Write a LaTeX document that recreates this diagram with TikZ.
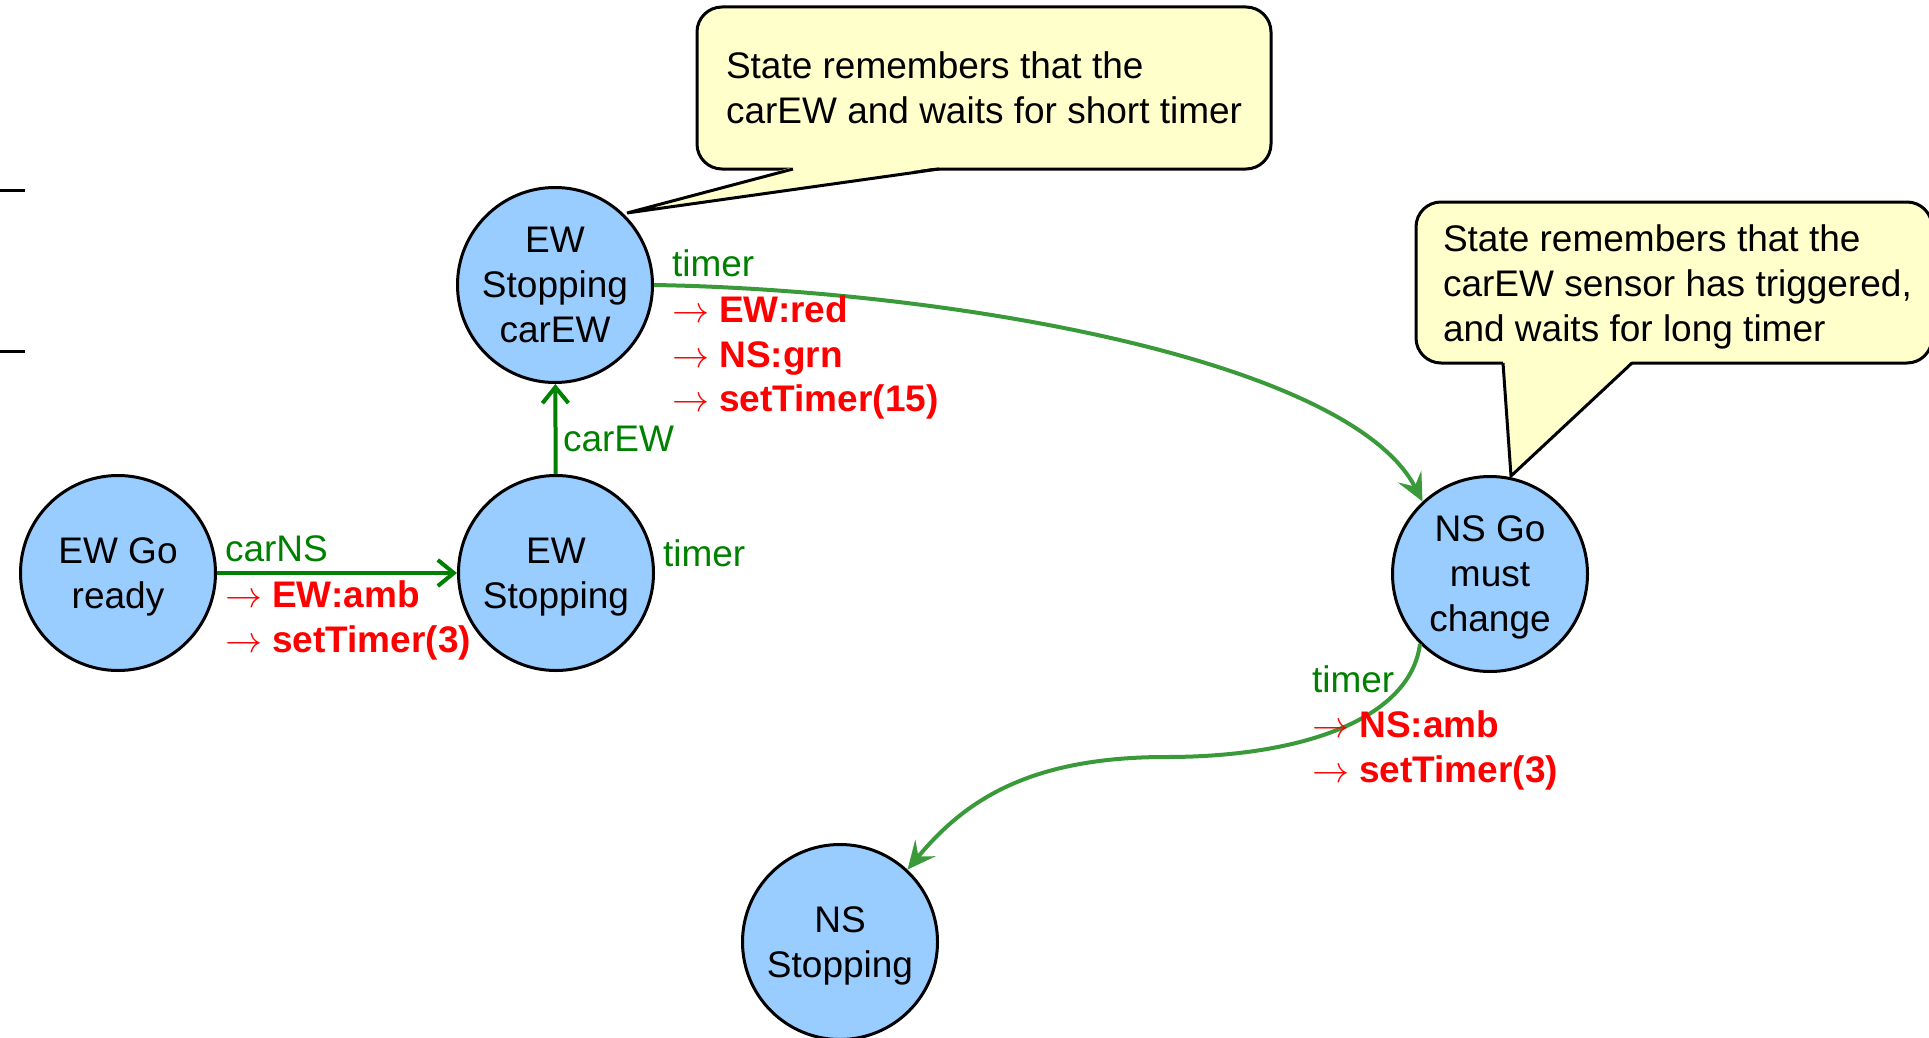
\documentclass[tikz,border=0pt]{standalone}
\usepackage{fix-cm}
\usepackage{fontspec}
\setmainfont{Liberation Sans}
\usetikzlibrary{arrows.meta}

\definecolor{statefill}{HTML}{99CCFF}
\definecolor{notefill}{HTML}{FFFFCC}
\definecolor{trigger}{HTML}{008000}
\definecolor{action}{HTML}{FF0000}
\definecolor{flowgreen}{HTML}{3A9A3A}

\newcommand{\labelfont}{\fontsize{37}{45}\selectfont}
\newcommand{\act}[1]{$\rightarrow$\ #1}

\begin{document}
\begin{tikzpicture}[x=1pt,y=-1pt,
  every node/.style={font=\labelfont, inner sep=0pt, outer sep=0pt},
  state/.style={circle, draw=black, line width=3pt, fill=statefill,
    minimum size=195pt, align=center, text depth=0pt, outer sep=1.5pt},
  trig/.style={text=trigger, anchor=base west},
  effect/.style={text=action, anchor=base west, font=\labelfont\bfseries},
  note/.style={draw=black, line width=3pt, fill=notefill, rounded corners=25pt},
  notetext/.style={anchor=base west},
  straightflow/.style={draw=trigger, line width=4pt,
    -{Straight Barb[length=16pt,width=26pt,line width=4pt]}},
  curvedflow/.style={draw=flowgreen, line width=4pt,
    -{Stealth[length=28pt,width=26pt,inset=11pt]}}
]
\useasboundingbox (0,0) rectangle (1929,1038);

% stray edge marks at the left border
\draw[line width=3pt] (0,190) -- (25,190);
\draw[line width=3pt] (0,351) -- (25,351);

% states
\node[state] (ewgo) at (118,573) {EW Go\\ready};
\node[state] (ews)  at (556,573) {EW\\Stopping};
\node[state] (cew)  at (555,285) {EW\\Stopping\\carEW};
\node[state] (nsgo) at (1490,574) {NS Go\\must\\change};
\node[state] (nss)  at (840,942) {NS\\Stopping};

% notes
\path[note] (697,7) rectangle (1271,169);
\fill[notefill] (793,167) -- (627,213) -- (939,167) -- cycle;
\draw[line width=3pt, line join=miter] (793,169) -- (627,213) -- (939,169);
\node[notetext] (n1a) at (726,79) {State remembers that the};
\node[notetext] (n1b) at (726,124) {carEW and waits for short timer};

\path[note] (1416,202) rectangle (1932,363);
\fill[notefill] (1503,361) -- (1511,476) -- (1632,361) -- cycle;
\draw[line width=3pt, line join=miter] (1503,363) -- (1511,476) -- (1632,363);
\node[notetext] (n2a) at (1443,251) {State remembers that the};
\node[notetext] (n2b) at (1443,296) {carEW sensor has triggered,};
\node[notetext] (n2c) at (1443,341) {and waits for long timer};

% transitions
\draw[straightflow] (ewgo) -- (ews);
\draw[straightflow] (ews) -- (cew);
\draw[curvedflow] (cew.east) .. controls (950,290) and (1350,360) .. (nsgo.133);
\draw[curvedflow] (nsgo.225) .. controls (1410,720) and (1300,757) .. (1166,757)
  .. controls (1030,757) and (965,800) .. (nss.47);

% transition labels
\node[trig] (t1) at (225,561) {carNS};
\node[effect] (t1a) at (225,607) {\act{EW:amb}};
\node[effect] (t1b) at (225,652) {\act{setTimer(3)}};

\node[trig] (t2) at (563,451) {carEW};

\node[trig] (t3) at (663,566) {timer};

\node[trig] (t4) at (672,276) {timer};
\node[effect] (t4a) at (672,322) {\act{EW:red}};
\node[effect] (t4b) at (672,367) {\act{NS:grn}};
\node[effect] (t4c) at (672,411) {\act{setTimer(15)}};

\node[trig] (t5) at (1312,692) {timer};
\node[effect] (t5a) at (1312,737) {\act{NS:amb}};
\node[effect] (t5b) at (1312,782) {\act{setTimer(3)}};
\end{tikzpicture}
\end{document}
